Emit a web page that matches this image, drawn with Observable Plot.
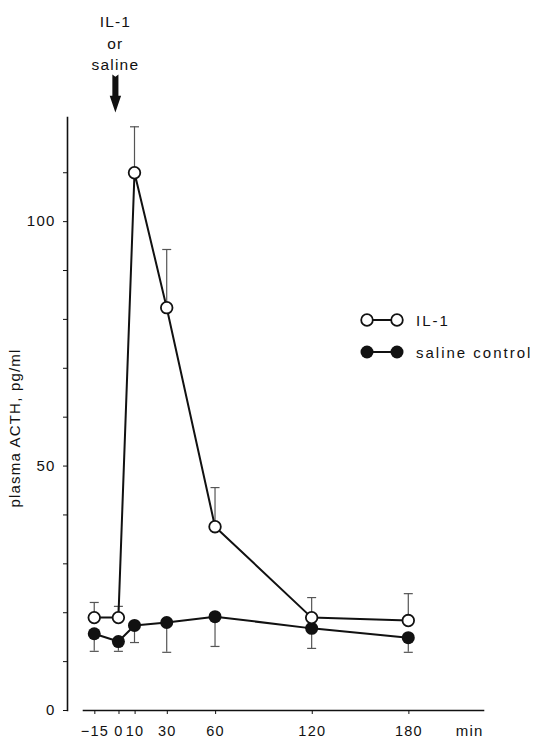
<!DOCTYPE html>
<html>
<head>
<meta charset="utf-8">
<script src="https://cdn.jsdelivr.net/npm/d3@7"></script>
<script src="https://cdn.jsdelivr.net/npm/@observablehq/plot@0.6"></script>
<style>
  html, body { margin: 0; padding: 0; background: #fff; }
  #wrap { position: relative; width: 538px; height: 740px; font-family: "Liberation Sans", Arial, sans-serif; }
  #wrap svg.plot { font-family: "Liberation Sans", Arial, sans-serif; font-size: 15px; letter-spacing: 1.2px; color: #111; }
  #legend { position: absolute; left: 358px; top: 304px; font-size: 15px; letter-spacing: 2px; color: #111; }
  .row { display: flex; align-items: center; height: 32px; }
  .row svg { margin-right: 10px; }
</style>
</head>
<body>
<div id="wrap"></div>
<script>
// ---- data ----
const times = [-15, 0, 10, 30, 60, 120, 180];
const il1Mean = [19.0, 19.0, 110.0, 82.4, 37.6, 19.0, 18.4];
const il1Upper = [22.1, 21.3, 119.4, 94.3, 45.6, 23.1, 23.9];
const salineMean = [15.7, 14.1, 17.4, 18.0, 19.2, 16.8, 14.9];
const salineLower = [12.1, 12.1, 13.9, 11.9, 13.1, 12.7, 11.9];
const xTicks = [-15, 0, 10, 30, 60, 120, 180];
const yTicks = [0, 10, 20, 30, 40, 50, 60, 70, 80, 90, 100, 110];
const yTickLabels = [0, 50, 100];
const seriesNames = ["IL-1", "saline control"];
const yTitle = "plasma ACTH, pg/ml";
const xTitle = "min";
const annotation = "IL-1\nor\nsaline";

const il1 = times.map((t, i) => ({t, mean: il1Mean[i], err: il1Upper[i]}));
const saline = times.map((t, i) => ({t, mean: salineMean[i], err: salineLower[i]}));

const capSymbol = {
  draw(ctx, size) {
    const r = Math.sqrt(size / Math.PI);
    ctx.moveTo(-r, 0);
    ctx.lineTo(r, 0);
  }
};
const arrowSymbol = {
  draw(ctx, size) {
    const s = Math.sqrt(size / Math.PI);
    ctx.moveTo(-0.16 * s, -1 * s);
    ctx.lineTo(0, -0.88 * s);
    ctx.lineTo(0.16 * s, -1 * s);
    ctx.lineTo(0.16 * s, 0.12 * s);
    ctx.lineTo(0.3 * s, 0.12 * s);
    ctx.lineTo(0, 1 * s);
    ctx.lineTo(-0.3 * s, 0.12 * s);
    ctx.lineTo(-0.16 * s, 0.12 * s);
    ctx.closePath();
  }
};

const errColor = "#555";

const chart = Plot.plot({
  width: 538,
  height: 740,
  marginLeft: 67,
  marginRight: 55,
  marginTop: 117,
  marginBottom: 30,
  x: {domain: [-31.6, 226.7]},
  y: {domain: [0, 121.3]},
  marks: [
    Plot.frame({anchor: "left", stroke: "#111", strokeWidth: 1.6}),
    Plot.frame({anchor: "bottom", insetLeft: 16, stroke: "#111", strokeWidth: 1.6}),
    Plot.axisY({
      ticks: yTicks,
      tickSize: 4,
      tickPadding: 8,
      tickFormat: d => yTickLabels.includes(d) ? String(d) : "",
      label: null,
      fontSize: 15
    }),
    Plot.axisX({
      ticks: xTicks,
      tickSize: 4,
      tickPadding: 11,
      label: null,
      fontSize: 14.5,
      dx: 0.6
    }),
    Plot.text([yTitle], {text: d => d, frameAnchor: "left", textAnchor: "middle", rotate: -90, lineAnchor: "top", dx: -58, dy: 14, fontSize: 15, fill: "#111"}),
    Plot.text([xTitle], {text: d => d, frameAnchor: "bottom-right", textAnchor: "end", lineAnchor: "top", dy: 15, fontSize: 15, fill: "#111"}),
    // saline control (filled)
    Plot.ruleX(saline, {x: "t", y1: "mean", y2: "err", stroke: errColor, strokeWidth: 1.2}),
    Plot.dot(saline, {x: "t", y: "err", symbol: capSymbol, r: 4.5, stroke: errColor, strokeWidth: 1.2, fill: "none"}),
    Plot.line(saline, {x: "t", y: "mean", stroke: "#111", strokeWidth: 2}),
    Plot.dot(saline, {x: "t", y: "mean", r: 6.5, fill: "#111", stroke: "none"}),
    // IL-1 (open)
    Plot.ruleX(il1, {x: "t", y1: "mean", y2: "err", stroke: errColor, strokeWidth: 1.2}),
    Plot.dot(il1, {x: "t", y: "err", symbol: capSymbol, r: 4.5, stroke: errColor, strokeWidth: 1.2, fill: "none"}),
    Plot.line(il1, {x: "t", y: "mean", stroke: "#111", strokeWidth: 2}),
    Plot.dot(il1, {x: "t", y: "mean", r: 5.8, fill: "white", stroke: "#111", strokeWidth: 1.8}),
    // injection annotation
    Plot.text([annotation], {x: [0], text: d => d, frameAnchor: "top", lineAnchor: "top", dy: -106, dx: -3, lineHeight: 1.4, fontSize: 15.5, fill: "#111"}),
    Plot.dot([0], {x: d => d, frameAnchor: "top", dy: -24, dx: -3, symbol: arrowSymbol, r: 19, fill: "#111", stroke: "none"})
  ]
});
chart.classList.add("plot");
document.getElementById("wrap").appendChild(chart);

// legend
const legend = document.createElement("div");
legend.id = "legend";
const mk = (filled, name) => {
  const row = document.createElement("div");
  row.className = "row";
  const c = filled ? 'fill="#111" stroke="none"' : 'fill="white" stroke="#111" stroke-width="1.8"';
  row.innerHTML = `<svg width="48" height="20"><line x1="9" x2="39" y1="10" y2="10" stroke="#111" stroke-width="2"/>` +
    `<circle cx="9" cy="10" r="${filled ? 6.5 : 5.8}" ${c}/><circle cx="39" cy="10" r="${filled ? 6.5 : 5.8}" ${c}/></svg><span>${name}</span>`;
  return row;
};
legend.appendChild(mk(false, seriesNames[0]));
legend.appendChild(mk(true, seriesNames[1]));
document.getElementById("wrap").appendChild(legend);
</script>
</body>
</html>
